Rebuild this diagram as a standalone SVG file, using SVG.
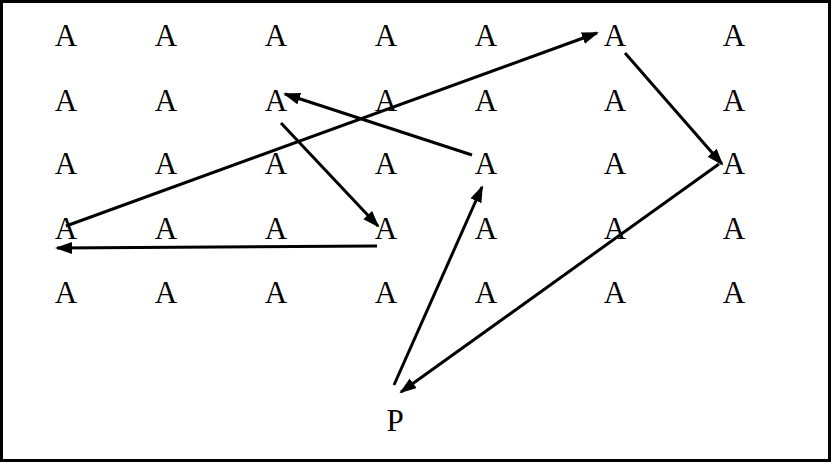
<svg xmlns="http://www.w3.org/2000/svg" width="832" height="464" viewBox="0 0 832 464">
<defs>
<style>
.t{font-family:"Liberation Serif","DejaVu Serif",serif;font-size:31px;fill:#000;text-anchor:middle}
.c{stroke:#000;stroke-width:3;fill:none;marker-end:url(#ah)}
</style>
<marker id="ah" markerUnits="userSpaceOnUse" markerWidth="18" markerHeight="14" refX="15" refY="6" orient="auto" viewBox="0 0 18 14">
<path d="M0,0 L17,6 L0,12 z" fill="#000"/>
</marker>
</defs>
<rect x="1.5" y="1.5" width="828" height="459" fill="#fff" stroke="#000" stroke-width="3"/>
<g id="nodes">
<g id="r1"><text class="t" x="66" y="46">A</text><text class="t" x="166" y="46">A</text><text class="t" x="276" y="46">A</text><text class="t" x="386" y="46">A</text><text class="t" x="486" y="46">A</text><text class="t" x="615" y="46">A</text><text class="t" x="734" y="46">A</text></g>
<g id="r2"><text class="t" x="66" y="111">A</text><text class="t" x="166" y="111">A</text><text class="t" x="276" y="111">A</text><text class="t" x="386" y="111">A</text><text class="t" x="486" y="111">A</text><text class="t" x="615" y="111">A</text><text class="t" x="734" y="111">A</text></g>
<g id="r3"><text class="t" x="66" y="174">A</text><text class="t" x="166" y="174">A</text><text class="t" x="276" y="174">A</text><text class="t" x="386" y="174">A</text><text class="t" x="486" y="174">A</text><text class="t" x="615" y="174">A</text><text class="t" x="734" y="174">A</text></g>
<g id="r4"><text class="t" x="66" y="239">A</text><text class="t" x="166" y="239">A</text><text class="t" x="276" y="239">A</text><text class="t" x="386" y="239">A</text><text class="t" x="486" y="239">A</text><text class="t" x="615" y="239">A</text><text class="t" x="734" y="239">A</text></g>
<g id="r5"><text class="t" x="66" y="303">A</text><text class="t" x="166" y="303">A</text><text class="t" x="276" y="303">A</text><text class="t" x="386" y="303">A</text><text class="t" x="486" y="303">A</text><text class="t" x="615" y="303">A</text><text class="t" x="734" y="303">A</text></g>
<g id="P"><text class="t" x="395" y="431">P</text></g>
</g>
<g id="connectors">
<line class="c" x1="394" y1="385" x2="482" y2="187"/>
<line class="c" x1="472" y1="155" x2="285" y2="94"/>
<line class="c" x1="281" y1="123" x2="378" y2="226"/>
<line class="c" x1="377" y1="246" x2="57" y2="248"/>
<line class="c" x1="66" y1="226" x2="597" y2="33"/>
<line class="c" x1="625" y1="53" x2="722" y2="164"/>
<line class="c" x1="719" y1="164" x2="401" y2="392"/>
</g>
</svg>
